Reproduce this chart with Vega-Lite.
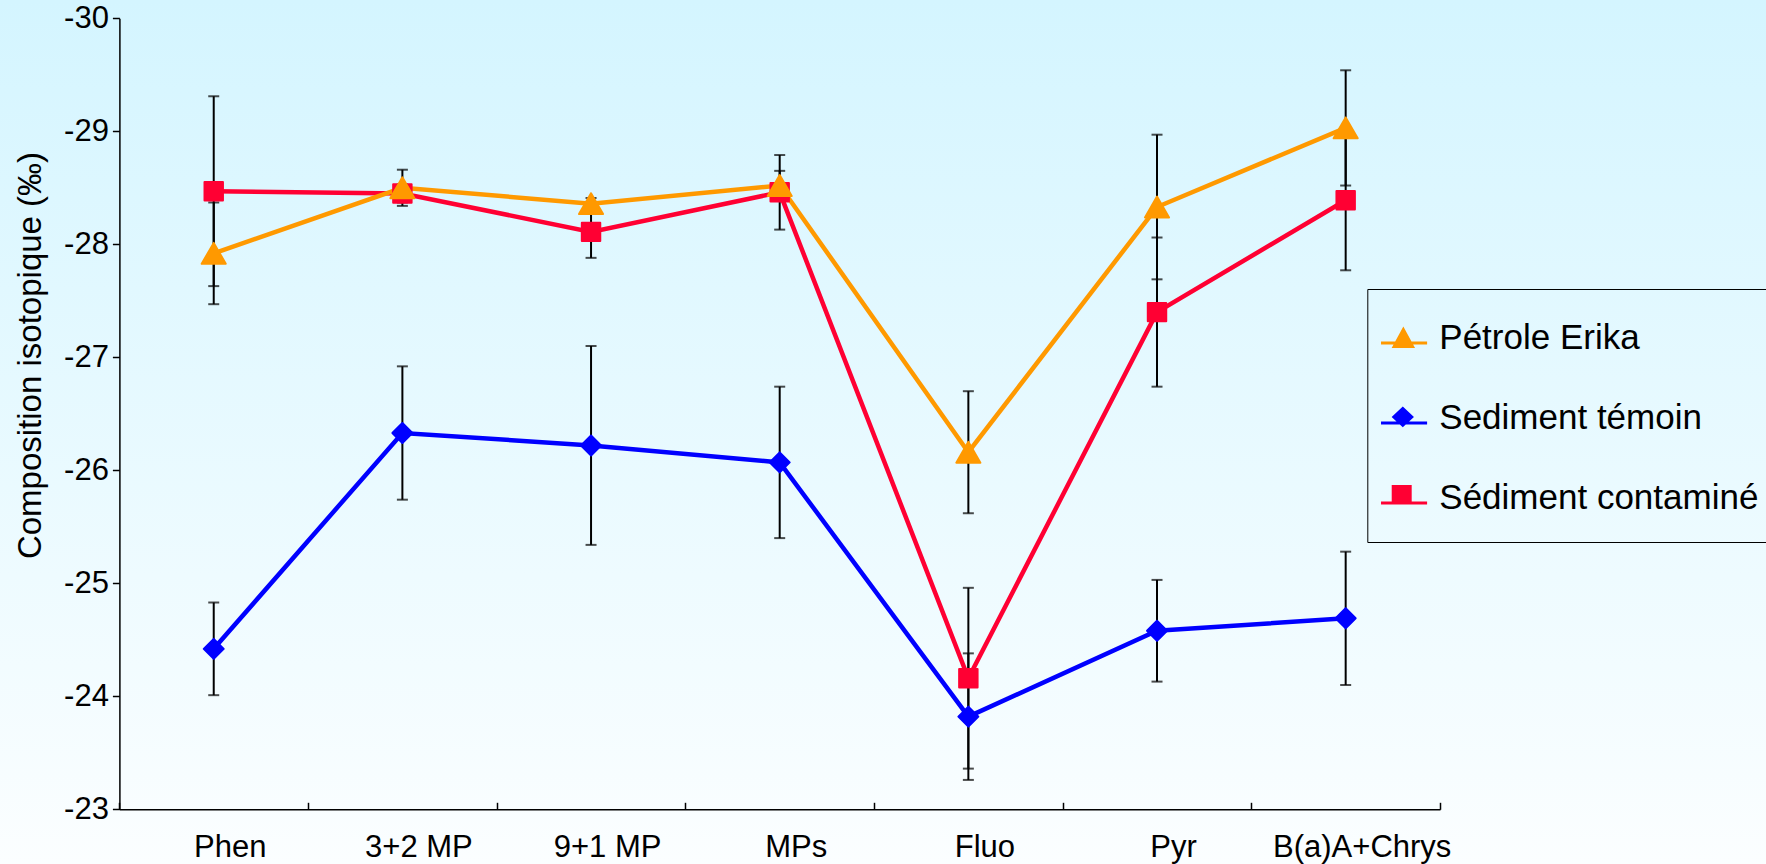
{
  "$schema": "https://vega.github.io/schema/vega-lite/v6.json",
  "width": 1766,
  "height": 864,
  "autosize": "none",
  "padding": 0,
  "background": "#ffffff",
  "view": {
    "stroke": null,
    "fill": {
      "gradient": "linear",
      "x1": 0, "y1": 0, "x2": 0, "y2": 1,
      "stops": [
        {"offset": 0, "color": "#d4f5ff"},
        {"offset": 1, "color": "#fbfeff"}
      ]
    }
  },
  "config": {"font": "Liberation Sans"},
  "datasets": {
    "pts": [
      {"s": "Sediment témoin", "c": "Phen", "v": -24.42},
      {"s": "Sediment témoin", "c": "3+2 MP", "v": -26.33},
      {"s": "Sediment témoin", "c": "9+1 MP", "v": -26.22},
      {"s": "Sediment témoin", "c": "MPs", "v": -26.07},
      {"s": "Sediment témoin", "c": "Fluo", "v": -23.82},
      {"s": "Sediment témoin", "c": "Pyr", "v": -24.58},
      {"s": "Sediment témoin", "c": "B(a)A+Chrys", "v": -24.69},
      {"s": "Sédiment contaminé", "c": "Phen", "v": -28.47},
      {"s": "Sédiment contaminé", "c": "3+2 MP", "v": -28.45},
      {"s": "Sédiment contaminé", "c": "9+1 MP", "v": -28.11},
      {"s": "Sédiment contaminé", "c": "MPs", "v": -28.46},
      {"s": "Sédiment contaminé", "c": "Fluo", "v": -24.16},
      {"s": "Sédiment contaminé", "c": "Pyr", "v": -27.40},
      {"s": "Sédiment contaminé", "c": "B(a)A+Chrys", "v": -28.39},
      {"s": "Pétrole Erika", "c": "Phen", "v": -27.92},
      {"s": "Pétrole Erika", "c": "3+2 MP", "v": -28.50},
      {"s": "Pétrole Erika", "c": "9+1 MP", "v": -28.36},
      {"s": "Pétrole Erika", "c": "MPs", "v": -28.52},
      {"s": "Pétrole Erika", "c": "Fluo", "v": -26.16},
      {"s": "Pétrole Erika", "c": "Pyr", "v": -28.33},
      {"s": "Pétrole Erika", "c": "B(a)A+Chrys", "v": -29.03}
    ],
    "bars": [
      {"s": "Sediment témoin", "c": "Phen", "v": -24.83, "v2": -24.01},
      {"s": "Sediment témoin", "c": "3+2 MP", "v": -26.92, "v2": -25.74},
      {"s": "Sediment témoin", "c": "9+1 MP", "v": -27.10, "v2": -25.34},
      {"s": "Sediment témoin", "c": "MPs", "v": -26.74, "v2": -25.40},
      {"s": "Sediment témoin", "c": "Fluo", "v": -24.38, "v2": -23.26},
      {"s": "Sediment témoin", "c": "Pyr", "v": -25.03, "v2": -24.13},
      {"s": "Sediment témoin", "c": "B(a)A+Chrys", "v": -25.28, "v2": -24.10},
      {"s": "Sédiment contaminé", "c": "Phen", "v": -29.31, "v2": -27.63},
      {"s": "Sédiment contaminé", "c": "3+2 MP", "v": -28.53, "v2": -28.37},
      {"s": "Sédiment contaminé", "c": "9+1 MP", "v": -28.34, "v2": -27.88},
      {"s": "Sédiment contaminé", "c": "MPs", "v": -28.79, "v2": -28.13},
      {"s": "Sédiment contaminé", "c": "Fluo", "v": -24.96, "v2": -23.36},
      {"s": "Sédiment contaminé", "c": "Pyr", "v": -28.06, "v2": -26.74},
      {"s": "Sédiment contaminé", "c": "B(a)A+Chrys", "v": -29.01, "v2": -27.77},
      {"s": "Pétrole Erika", "c": "Phen", "v": -28.37, "v2": -27.47},
      {"s": "Pétrole Erika", "c": "3+2 MP", "v": -28.66, "v2": -28.34},
      {"s": "Pétrole Erika", "c": "9+1 MP", "v": -28.41, "v2": -28.31},
      {"s": "Pétrole Erika", "c": "MPs", "v": -28.65, "v2": -28.39},
      {"s": "Pétrole Erika", "c": "Fluo", "v": -26.70, "v2": -25.62},
      {"s": "Pétrole Erika", "c": "Pyr", "v": -28.97, "v2": -27.69},
      {"s": "Pétrole Erika", "c": "B(a)A+Chrys", "v": -29.54, "v2": -28.52}
    ]
  },
  "encoding": {
    "x": {
      "field": "c",
      "type": "nominal",
      "sort": ["Phen", "3+2 MP", "9+1 MP", "MPs", "Fluo", "Pyr", "B(a)A+Chrys"],
      "scale": {"type": "band", "range": [119.4, 1440], "paddingInner": 0, "paddingOuter": 0},
      "axis": {
        "title": null,
        "orient": "bottom",
        "offset": -54.7,
        "labelAngle": 0,
        "labelFont": "Liberation Sans",
        "labelFontSize": 31,
        "labelColor": "#000000",
        "labelPadding": 30,
        "labelOffset": 16,
        "tickBand": "extent",
        "tickSize": -7,
        "tickColor": "#000000",
        "tickWidth": 1.5,
        "domainColor": "#000000",
        "domainWidth": 1.5,
        "grid": false
      }
    },
    "y": {
      "field": "v",
      "type": "quantitative",
      "scale": {"domain": [-30, -23], "range": [18.3, 809.3], "nice": false, "zero": false},
      "axis": {
        "orient": "left",
        "offset": -119.4,
        "values": [-30, -29, -28, -27, -26, -25, -24, -23],
        "labelExpr": "'' + datum.value",
        "labelFont": "Liberation Sans",
        "labelFontSize": 31,
        "labelColor": "#000000",
        "labelPadding": 4,
        "tickSize": 7,
        "tickColor": "#000000",
        "tickWidth": 1.5,
        "domainColor": "#000000",
        "domainWidth": 1.5,
        "grid": false,
        "title": "Composition isotopique (‰)",
        "titleFont": "Liberation Sans",
        "titleFontSize": 33,
        "titleFontWeight": "normal",
        "titleColor": "#000000",
        "titleAngle": -90,
        "titleAlign": "center",
        "titleBaseline": "alphabetic",
        "titleX": -79.4,
        "titleY": 355
      }
    }
  },
  "layer": [
    {
      "data": {"name": "bars"},
      "mark": {"type": "rule", "color": "#000000", "strokeWidth": 2},
      "encoding": {"y2": {"field": "v2"}}
    },
    {
      "data": {"name": "bars"},
      "transform": [{"fold": ["v", "v2"], "as": ["k", "v"]}],
      "mark": {"type": "tick", "color": "#000000", "size": 11, "thickness": 2}
    },
    {
      "data": {"name": "pts"},
      "transform": [{"filter": {"field": "s", "equal": "Sediment témoin"}}],
      "mark": {"type": "line", "color": "#0000ff", "strokeWidth": 4.5}
    },
    {
      "data": {"name": "pts"},
      "transform": [{"filter": {"field": "s", "equal": "Sédiment contaminé"}}],
      "mark": {"type": "line", "color": "#ff0033", "strokeWidth": 4.5}
    },
    {
      "data": {"name": "pts"},
      "transform": [{"filter": {"field": "s", "equal": "Pétrole Erika"}}],
      "mark": {"type": "line", "color": "#ff9900", "strokeWidth": 4.5}
    },
    {
      "data": {"name": "pts"},
      "transform": [{"filter": {"field": "s", "equal": "Sediment témoin"}}],
      "mark": {"type": "point", "shape": "diamond", "filled": true, "opacity": 1, "color": "#0000ff", "stroke": "#0000ff", "strokeWidth": 2, "strokeJoin": "round", "size": 400}
    },
    {
      "data": {"name": "pts"},
      "transform": [{"filter": {"field": "s", "equal": "Sédiment contaminé"}}],
      "mark": {"type": "point", "shape": "square", "filled": true, "opacity": 1, "color": "#ff0033", "stroke": "#ff0033", "strokeWidth": 2, "strokeJoin": "round", "size": 340}
    },
    {
      "data": {"name": "pts"},
      "transform": [{"filter": {"field": "s", "equal": "Pétrole Erika"}}],
      "mark": {"type": "point", "shape": "triangle-up", "filled": true, "opacity": 1, "color": "#ff9900", "stroke": "#ff9900", "strokeWidth": 2, "strokeJoin": "round", "size": 580}
    },
    {
      "data": {"name": "pts"},
      "transform": [{"filter": "false"}],
      "mark": {"type": "point", "filled": true, "opacity": 1},
      "encoding": {
        "color": {
          "field": "s",
          "type": "nominal",
          "scale": {
            "domain": ["Pétrole Erika", "Sediment témoin", "Sédiment contaminé"],
            "range": ["#ff9900", "#0000ff", "#ff0033"]
          },
          "legend": {
            "orient": "none",
            "legendX": 1367.3,
            "legendY": 289,
            "title": " ",
            "titleOrient": "bottom",
            "titleFontSize": 10,
            "titlePadding": 3,
            "direction": "vertical",
            "padding": 13,
            "strokeColor": "#000000",
            "symbolSize": 5184,
            "symbolStrokeWidth": 0,
            "symbolOpacity": 1,
            "labelFont": "Liberation Sans",
            "labelFontSize": 35,
            "labelColor": "#000000",
            "labelOffset": -13,
            "labelLimit": 500,
            "rowPadding": 26
          }
        },
        "shape": {
          "field": "s",
          "type": "nominal",
          "scale": {
            "domain": ["Pétrole Erika", "Sediment témoin", "Sédiment contaminé"],
            "range": [
              "M-0.98,0.1H0.3V0.18H-0.98Z M-0.36,-0.32L-0.035,0.28L-0.685,0.28Z",
              "M-0.98,0.1H0.3V0.18H-0.98Z M-0.375,-0.32L-0.065,-0.03L-0.375,0.26L-0.685,-0.03Z",
              "M-0.98,0.1H0.3V0.18H-0.98Z M-0.683,-0.36H-0.128V0.14H-0.683Z"
            ]
          }
        }
      }
    }
  ]
}
